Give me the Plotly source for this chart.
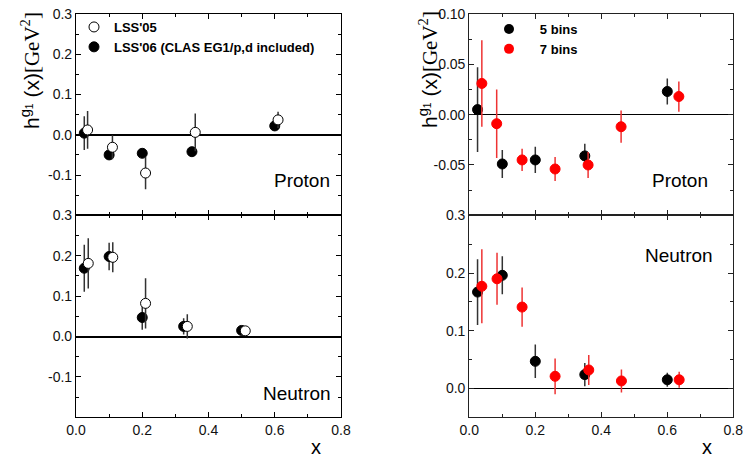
import plotly.graph_objects as go

# ---------------- data ----------------
# Left panels: LSS'05 (open) and LSS'06 (filled)
lp_x06 = [0.025, 0.10, 0.20, 0.35, 0.60]
lp_y06 = [0.004, -0.050, -0.046, -0.042, 0.022]
lp_e06 = [0.042, 0.010, 0.008, 0.010, 0.010]
lp_x05 = [0.035, 0.11, 0.21, 0.36, 0.61]
lp_y05 = [0.012, -0.031, -0.095, 0.006, 0.037]
lp_e05 = [0.047, 0.030, 0.040, 0.047, 0.020]

ln_x06 = [0.025, 0.10, 0.20, 0.325, 0.50]
ln_y06 = [0.169, 0.198, 0.047, 0.025, 0.015]
ln_e06 = [0.058, 0.034, 0.030, 0.020, 0.005]
ln_x05 = [0.037, 0.111, 0.21, 0.336, 0.511]
ln_y05 = [0.181, 0.196, 0.082, 0.025, 0.014]
ln_e05 = [0.062, 0.037, 0.062, 0.030, 0.004]

# Right panels: 5 bins (black) and 7 bins (red)
rp_x5 = [0.025, 0.10, 0.20, 0.35, 0.60]
rp_y5 = [0.005, -0.049, -0.045, -0.041, 0.023]
rp_e5 = [0.042, 0.014, 0.013, 0.012, 0.013]
rp_x7 = [0.038, 0.083, 0.16, 0.26, 0.36, 0.46, 0.635]
rp_y7 = [0.031, -0.009, -0.045, -0.054, -0.050, -0.012, 0.018]
rp_e7 = [0.043, 0.034, 0.011, 0.012, 0.013, 0.016, 0.015]

rn_x5 = [0.025, 0.10, 0.20, 0.35, 0.60]
rn_y5 = [0.167, 0.196, 0.047, 0.024, 0.015]
rn_e5 = [0.057, 0.033, 0.029, 0.020, 0.012]
rn_x7 = [0.038, 0.084, 0.16, 0.26, 0.362, 0.461, 0.636]
rn_y7 = [0.177, 0.190, 0.141, 0.021, 0.032, 0.013, 0.015]
rn_e7 = [0.064, 0.045, 0.034, 0.031, 0.026, 0.020, 0.014]

x_ticks = [0.0, 0.2, 0.4, 0.6, 0.8]
x_ticktext = ["0.0", "0.2", "0.4", "0.6", "0.8"]

W, H = 745, 457
def px_x(p): return p / W
def px_y(p): return 1 - p / H

fig = go.Figure()

BLK = "#000000"
ERR_BLK = "#333333"
RED = "#ff0000"
ERR_RED = "#ee3333"

def add(xs, ys, es, xa, ya, name, fill, line, ecol, size=10):
    fig.add_trace(go.Scatter(
        x=xs, y=ys, mode="markers", name=name,
        xaxis=xa, yaxis=ya, showlegend=False,
        marker=dict(size=size, color=fill, line=dict(color=line, width=1)),
        error_y=dict(type="data", array=es, visible=True, color=ecol,
                     thickness=1.5, width=0),
    ))

# left proton
add(lp_x06, lp_y06, lp_e06, "x", "y", "LSS'06", BLK, BLK, ERR_BLK)
add(lp_x05, lp_y05, lp_e05, "x", "y", "LSS'05", "white", BLK, ERR_BLK)
# left neutron
add(ln_x06, ln_y06, ln_e06, "x2", "y2", "LSS'06", BLK, BLK, ERR_BLK)
add(ln_x05, ln_y05, ln_e05, "x2", "y2", "LSS'05", "white", BLK, ERR_BLK)
# right proton
add(rp_x5, rp_y5, rp_e5, "x3", "y3", "5 bins", BLK, BLK, ERR_BLK)
add(rp_x7, rp_y7, rp_e7, "x3", "y3", "7 bins", RED, RED, ERR_RED)
# right neutron
add(rn_x5, rn_y5, rn_e5, "x4", "y4", "5 bins", BLK, BLK, ERR_BLK)
add(rn_x7, rn_y7, rn_e7, "x4", "y4", "7 bins", RED, RED, ERR_RED)

# legend entries
fig.add_trace(go.Scatter(x=[None], y=[None], mode="markers", name="<b>LSS'05</b>",
                         xaxis="x", yaxis="y", legend="legend",
                         marker=dict(size=10, color="white", line=dict(color=BLK, width=1))))
fig.add_trace(go.Scatter(x=[None], y=[None], mode="markers", name="<b>LSS'06 (CLAS EG1/p,d included)</b>",
                         xaxis="x", yaxis="y", legend="legend",
                         marker=dict(size=10, color=BLK, line=dict(color=BLK, width=1))))
fig.add_trace(go.Scatter(x=[None], y=[None], mode="markers", name="\u00a0\u00a0\u00a0<b>5 bins</b>",
                         xaxis="x3", yaxis="y3", legend="legend2",
                         marker=dict(size=10, color=BLK)))
fig.add_trace(go.Scatter(x=[None], y=[None], mode="markers", name="\u00a0\u00a0\u00a0<b>7 bins</b>",
                         xaxis="x3", yaxis="y3", legend="legend2",
                         marker=dict(size=10, color=RED)))

LX = [px_x(76), px_x(341)]
RX = [px_x(469.3), px_x(733.3)]
TY = [px_y(215.3), px_y(14)]
BY = [px_y(417.3), px_y(215.3)]

tickfont = dict(family="Liberation Sans, Arial, sans-serif", size=14, color="#111")

def xaxis(domain, anchor, labels, lc):
    return dict(domain=domain, anchor=anchor, range=[0, 0.8], tickvals=x_ticks,
                ticktext=x_ticktext, showticklabels=labels, ticks="inside", ticklen=5,
                tickwidth=1, tickcolor=lc, showline=True, linecolor=lc, linewidth=1.2,
                mirror="allticks", showgrid=False, zeroline=False, tickfont=tickfont,
                automargin=False,
                minor=dict(ticks="inside", ticklen=3, tickwidth=1, tickcolor=lc, dtick=0.1, showgrid=False))

def yaxis(domain, anchor, rng, tv, tt, minor_dtick, lc, zw):
    return dict(domain=domain, anchor=anchor, range=rng, tickvals=tv, ticktext=tt,
                ticks="inside", ticklen=5, tickwidth=1, tickcolor=lc, showline=True,
                linecolor=lc, linewidth=1.2, mirror="allticks", showgrid=False,
                zeroline=True, zerolinecolor="#000", zerolinewidth=zw, tickfont=tickfont,
                automargin=False,
                minor=dict(ticks="inside", ticklen=3, tickwidth=1, tickcolor=lc,
                           tick0=0, dtick=minor_dtick, showgrid=False))

lv = [-0.1, 0.0, 0.1, 0.2, 0.3]
lt = ["-0.1", "0.0", "0.1", "0.2", "0.3"]

fig.update_layout(
    width=W, height=H, autosize=False,
    margin=dict(l=0, r=0, t=0, b=0, pad=0, autoexpand=False),
    paper_bgcolor="white", plot_bgcolor="rgba(0,0,0,0)",
    font=dict(family="Liberation Sans, Arial, sans-serif", color="#000"),
    xaxis=xaxis(LX, "y", False, "#000"),
    yaxis=yaxis(TY, "x", [-0.2, 0.3], lv, lt, 0.05, "#000", 2),
    xaxis2=xaxis(LX, "y2", True, "#000"),
    yaxis2=yaxis(BY, "x2", [-0.2, 0.3], lv, lt, 0.05, "#000", 2),
    xaxis3=xaxis(RX, "y3", False, "#222"),
    yaxis3=yaxis(TY, "x3", [-0.1, 0.1], [-0.05, 0.0, 0.05, 0.10],
                 ["-0.05", "0.00", "0.05", "0.10"], 0.025, "#222", 1.3),
    xaxis4=xaxis(RX, "y4", True, "#222"),
    yaxis4=yaxis(BY, "x4", [-0.05, 0.3], [0.0, 0.1, 0.2, 0.3],
                 ["0.0", "0.1", "0.2", "0.3"], 0.05, "#222", 1.3),
    legend=dict(x=px_x(74), y=px_y(12), xanchor="left", yanchor="top",
                bgcolor="rgba(0,0,0,0)", borderwidth=0,
                font=dict(size=13, family="Liberation Sans, Arial, sans-serif"),
                tracegroupgap=0, itemsizing="trace"),
    legend2=dict(x=px_x(489), y=px_y(14), xanchor="left", yanchor="top",
                 bgcolor="rgba(0,0,0,0)", borderwidth=0,
                 font=dict(size=13, family="Liberation Sans, Arial, sans-serif"),
                 tracegroupgap=0, itemsizing="trace"),
)

ytitle = "h<sup>g<sub>1</sub></sup> (x)<span style='font-family:Liberation Serif, Times New Roman, serif'>[GeV<sup>2</sup>]</span>"
ann = []
for xc in [30, 428]:
    ann.append(dict(text=ytitle, x=px_x(xc), y=px_y(70), xref="paper", yref="paper",
                    textangle=-90, showarrow=False, xanchor="center", yanchor="middle",
                    font=dict(size=21, family="Liberation Sans, Arial, sans-serif", color="#000")))
for xc in [316, 707]:
    ann.append(dict(text="x", x=px_x(xc), y=px_y(447), xref="paper", yref="paper",
                    showarrow=False, xanchor="center", yanchor="middle",
                    font=dict(size=20, color="#000")))
labfont = dict(size=19, family="Liberation Sans, Arial, sans-serif", color="#000")
ann.append(dict(text="Proton", x=0.772, y=-0.113, xref="x", yref="y", showarrow=False,
                xanchor="right", yanchor="middle", font=labfont))
ann.append(dict(text="Neutron", x=0.776, y=-0.14, xref="x2", yref="y2", showarrow=False,
                xanchor="right", yanchor="middle", font=labfont))
ann.append(dict(text="Proton", x=0.73, y=-0.065, xref="x3", yref="y3", showarrow=False,
                xanchor="right", yanchor="middle", font=labfont))
ann.append(dict(text="Neutron", x=0.745, y=0.23, xref="x4", yref="y4", showarrow=False,
                xanchor="right", yanchor="middle", font=labfont))
fig.update_layout(annotations=ann)

fig.write_html("out.html", config={"displayModeBar": False},
               post_script="document.body.style.margin='0';")
